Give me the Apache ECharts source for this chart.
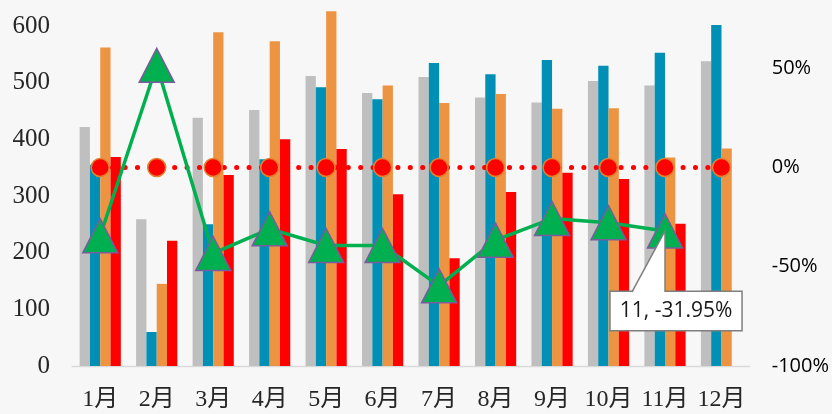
<!DOCTYPE html>
<html>
<head>
<meta charset="utf-8">
<script src="https://cdn.jsdelivr.net/npm/echarts@6/dist/echarts.min.js"></script>
<style>
html,body{margin:0;padding:0;background:#F7F7F7;}
#c{width:832px;height:414px;}
</style>
</head>
<body>
<div id="c"></div>
<script>
const categories = ['1月','2月','3月','4月','5月','6月','7月','8月','9月','10月','11月','12月'];
const seriesGray   = [422, 259, 438, 452, 512, 482, 510, 474, 465, 503, 495, 538];
const seriesBlue   = [355, 60, 250, 365, 492, 471, 535, 515, 540, 530, 553, 602];
const seriesOrange = [562, 145, 589, 573, 626, 495, 464, 480, 454, 455, 368, 384];
const seriesRed    = [369, 221, 337, 400, 383, 303, 190, 307, 341, 330, 251, null];
const zeroLine     = [0, 0, 0, 0, 0, 0, 0, 0, 0, 0, 0, 0];
const growthPct    = [-34.4, 51.5, -43.3, -30.9, -39.3, -39.3, -59.6, -36.6, -25.7, -27.8, -31.95, null];
// visible top of the (cropped) plot area
const leftTicks  = {min: 0, max: 646, interval: 100};
const rightTicks = {min: -100, max: 84.4, interval: 50};
const labelIndex = 10;

const chart = echarts.init(document.getElementById('c'), null, {renderer: 'canvas'});
const barCommon = {type: 'bar', barWidth: 10.3, barGap: '0%', yAxisIndex: 0};
const option = {
  backgroundColor: '#F7F7F7',
  animation: false,
  grid: {left: 72, right: 80, top: 0, bottom: 48},
  xAxis: {
    type: 'category', data: categories,
    axisLine: {lineStyle: {color: '#D9D9D9', width: 1.3}},
    axisTick: {length: 6, lineStyle: {color: '#D9D9D9', width: 1.3}},
    axisLabel: {interval: 0, fontFamily: '"Liberation Serif", "Noto Sans CJK SC"', fontSize: 24, color: '#262626', margin: 22}
  },
  yAxis: [
    {type: 'value', min: leftTicks.min, max: leftTicks.max, interval: leftTicks.interval,
     splitLine: {show: false}, axisLine: {show: false}, axisTick: {show: false},
     axisLabel: {fontFamily: '"Liberation Serif"', fontSize: 25, color: '#262626', margin: 22, showMaxLabel: false}},
    {type: 'value', position: 'right', min: rightTicks.min, max: rightTicks.max, interval: rightTicks.interval,
     splitLine: {show: false}, axisLine: {show: false}, axisTick: {show: false},
     axisLabel: {fontFamily: '"Open Sans"', fontSize: 20, color: '#000', margin: 22, formatter: '{value}%', showMaxLabel: false}}
  ],
  series: [
    Object.assign({}, barCommon, {name: 'a', data: seriesGray, itemStyle: {color: '#BFBFBF'}}),
    Object.assign({}, barCommon, {name: 'b', data: seriesBlue, itemStyle: {color: '#008FB5'}}),
    Object.assign({}, barCommon, {name: 'c', data: seriesOrange, itemStyle: {color: '#ED9443'}}),
    Object.assign({}, barCommon, {name: 'd', data: seriesRed, itemStyle: {color: '#FF0000'}}),
    {type: 'line', name: 'zero', yAxisIndex: 1, data: zeroLine, symbol: 'circle', symbolSize: 18,
     lineStyle: {color: '#FF0000', width: 5, type: [0.1, 12.3], cap: 'round'},
     itemStyle: {color: '#FF0000', borderColor: '#E3822F', borderWidth: 1.5}, z: 3},
    {type: 'line', name: 'growth', yAxisIndex: 1, symbol: 'triangle', symbolSize: [35, 34],
     data: growthPct.map((v, i) => i === labelIndex ? {
       value: v,
       label: {show: true, position: 'inside', offset: [11, 80],
         formatter: p => (p.dataIndex + 1) + ', ' + Number(p.value).toFixed(2) + '%',
         fontFamily: '"Open Sans"', fontSize: 21, color: '#1a1a1a',
         backgroundColor: '#fff', borderColor: '#7F7F7F', borderWidth: 1.5,
         padding: [7, 9], lineHeight: 24}
     } : v),
     lineStyle: {color: '#00B050', width: 3.5},
     itemStyle: {color: '#00B050', borderColor: '#7A5C9E', borderWidth: 1.5}, z: 4}
  ]
};
chart.setOption(option);

// callout pointer for the data label
const pt = chart.convertToPixel({seriesIndex: 5}, [labelIndex, growthPct[labelIndex]]);
const boxTop = pt[1] + 80 - 19;
chart.setOption({
  graphic: [
    {type: 'polygon', z: 100, shape: {points: [[pt[0] - 33, boxTop + 1.5], [pt[0], pt[1]], [pt[0], boxTop + 1.5]]},
     style: {fill: '#fff', stroke: null}},
    {type: 'polyline', z: 101, shape: {points: [[pt[0] - 33, boxTop], [pt[0], pt[1]], [pt[0], boxTop]]},
     style: {stroke: '#7F7F7F', lineWidth: 1.5, fill: null}}
  ]
});
</script>
</body>
</html>
